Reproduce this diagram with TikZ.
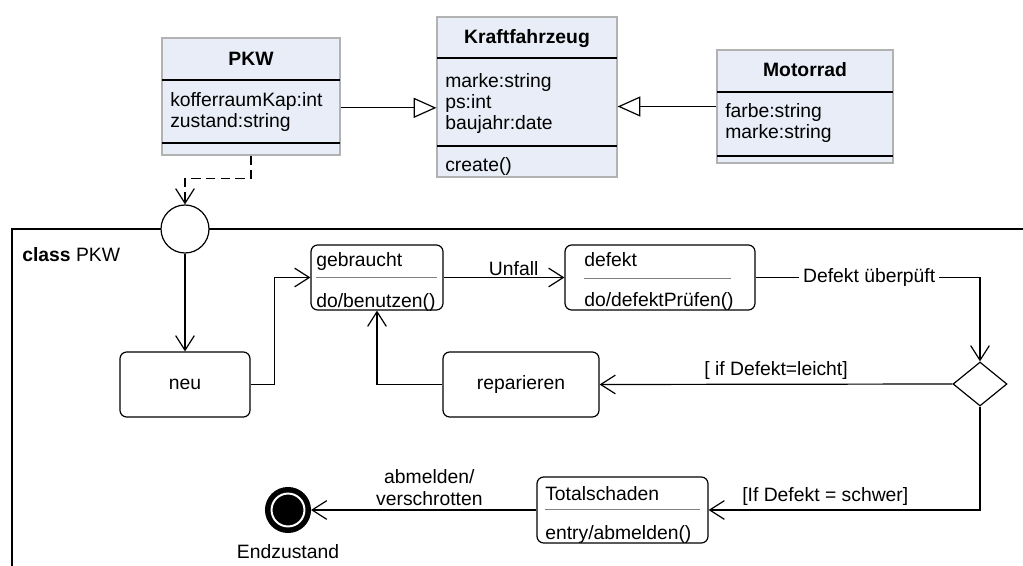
\documentclass[tikz,border=0pt]{standalone}
\usepackage{fontspec}
\setmainfont{Liberation Sans}
\usepackage{xcolor}
\usepackage{tikz}
\usetikzlibrary{shapes.geometric, arrows.meta, positioning}

\definecolor{klassenblau}{HTML}{E8EDF7}

\begin{document}
\begin{tikzpicture}[
    x=0.75pt, y=-0.75pt,
    font=\fontsize{14.5pt}{16pt}\selectfont,
    klasse/.style={draw=gray!60, fill=klassenblau, line width=0.9pt, inner sep=0pt},
    ktitel/.style={anchor=base, font=\fontsize{14.5pt}{16pt}\selectfont\bfseries, inner sep=0pt},
    ktext/.style={anchor=base west, align=left, inner sep=0pt},
    trenn/.style={black, line width=1pt},
    zustand/.style={draw, rounded corners=5pt, line width=0.9pt, inner sep=0pt, minimum height=48.75pt},
    ztext/.style={anchor=base west, inner sep=0pt},
    zlinie/.style={gray, line width=0.6pt},
    entscheidung/.style={draw, diamond, line width=0.9pt, inner sep=0pt, minimum width=40.5pt, minimum height=33pt},
    pseudo/.style={draw, circle, fill=white, line width=0.9pt, inner sep=0pt, minimum size=36pt},
    endzustand/.style={circle, fill=black, draw=white, line width=1.5pt, inner sep=0pt, minimum size=24.7pt, outer sep=4.9pt, preaction={draw=black, line width=9.8pt}},
    pfeil/.style={-{Straight Barb[length=11pt, width=14pt]}, line width=0.9pt},
    erbt/.style={-{Triangle[open, length=17pt, width=15pt, fill=white]}, line width=0.9pt},
    abh/.style={pfeil, dash pattern=on 7pt off 4pt}
]
\useasboundingbox (0,0) rectangle (1023,566);

% Klassen
\node[klasse, minimum width=133.5pt, minimum height=87.75pt] (pkw) at (251,96.5) {};
\node[ktitel] (pkwtitel) at (251,66) {PKW};
\draw[trenn] (162,80) -- (340,80);
\node[ktext] (pkwattr) at (170,128) {kofferraumKap:int\\zustand:string};
\draw[trenn] (162,143) -- (340,143);

\node[klasse, minimum width=135pt, minimum height=120pt] (kfz) at (527,97) {};
\node[ktitel] (kfztitel) at (527,44) {Kraftfahrzeug};
\draw[trenn] (437,58) -- (617,58);
\node[ktext] (kfzattr) at (445,130) {marke:string\\ps:int\\baujahr:date};
\draw[trenn] (437,146) -- (617,146);
\node[ktext] (kfzop) at (445,172) {create()};

\node[klasse, minimum width=132pt, minimum height=84.75pt] (motorrad) at (805,106.5) {};
\node[ktitel] (motorradtitel) at (805,77) {Motorrad};
\draw[trenn] (717,92) -- (893,92);
\node[ktext] (motorradattr) at (725,139) {farbe:string\\marke:string};
\draw[trenn] (717,156) -- (893,156);

% Zustandsautomat
\draw[line width=1pt] (12,566) -- (12,229) -- (1023,229);
\node[pseudo] (start) at (185,229) {};
\node[anchor=west, inner sep=0pt] (klassenname) at (22,255) {\textbf{class} PKW};

\node[zustand, minimum width=97.5pt] (neu) at (185,384.5) {neu};

\node[zustand, minimum width=99pt] (gebraucht) at (377,277.5) {};
\node[ztext] (gebrauchtname) at (316,267) {gebraucht};
\draw[zlinie] (316,277) -- (437,277);
\node[ztext] (gebrauchtdo) at (316,307) {do/benutzen()};

\node[zustand, minimum width=142.5pt] (defekt) at (660,277.5) {};
\node[ztext] (defektname) at (584,267) {defekt};
\draw[zlinie] (584,278) -- (731,278);
\node[ztext] (defektdo) at (584,306) {do/defektPrüfen()};

\node[zustand, minimum width=117pt] (reparieren) at (521,384.5) {reparieren};
\node[entscheidung] (weiche) at (980,384) {};

\node[zustand, minimum width=128.25pt, minimum height=49.5pt] (totalschaden) at (622.5,510) {};
\node[ztext] (totalname) at (545,500) {Totalschaden};
\draw[zlinie] (545,509) -- (700,509);
\node[ztext] (totalentry) at (545,539) {entry/abmelden()};

\node[endzustand] (ende) at (288,510) {};
\node[below=5pt of ende] (endetext) {Endzustand};

% Pfeile
\coordinate (pkwpfeil) at ([yshift=-8.5pt]pkw.east);
\draw[erbt] (pkwpfeil) -- (pkwpfeil -| kfz.west);
\draw[erbt] (motorrad.west) -- (motorrad.west -| kfz.east);
\draw[abh] (pkw.south) -- ++(0,23) -| (start.north);

\draw[pfeil] (start) -- (neu);
\draw[pfeil] (neu.east) -- ++(24,0) |- (gebraucht.west);
\draw[pfeil] (gebraucht) -- node[pos=0.58, above, inner sep=1pt] (unfall) {Unfall} (defekt);
\draw[pfeil] (defekt.east) -| node[pos=0.253, fill=white, inner sep=3pt] (ueberprueft) {Defekt überpüft} (weiche.north);
\draw[pfeil] (weiche.west) -- node[above, inner sep=3pt] (leicht) {[ if Defekt=leicht]} (reparieren.east);
\draw[pfeil] (reparieren.west) -| (gebraucht.south);
\draw[pfeil] (weiche.south) |- node[pos=0.785, above, inner sep=3pt] (schwer) {[If Defekt = schwer]} (totalschaden.east);
\draw[pfeil] (totalschaden.west) -- node[pos=0.475, above, align=center, inner sep=3pt] (abmelden) {abmelden/\\verschrotten} (ende);

\end{tikzpicture}
\end{document}
